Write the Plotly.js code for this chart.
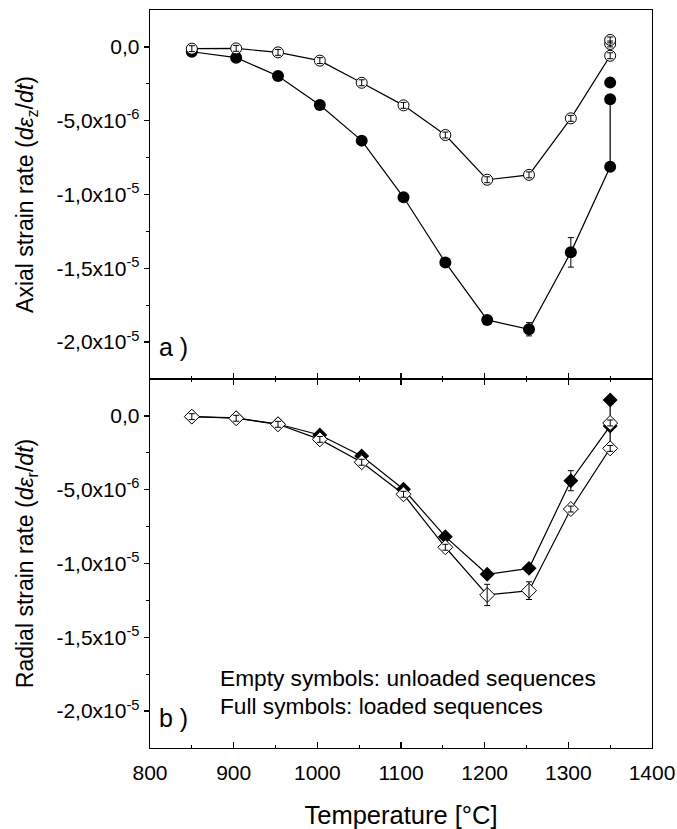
<!DOCTYPE html>
<html>
<head>
<meta charset="utf-8">
<script src="https://cdn.plot.ly/plotly-3.0.1.min.js"></script>
<style>html,body{margin:0;padding:0;background:#fff;}#chart{width:677px;height:829px;}</style>
</head>
<body>
<div id="chart"></div>
<script>
// ---- Data (strain rates in units of 1e-6 per s) ----
const axialUnloadedT = [850, 903, 953, 1003, 1053, 1103, 1153, 1203, 1253, 1303, 1350, 1350, 1350];
const axialUnloadedV = [-0.12, -0.10, -0.37, -0.93, -2.43, -3.96, -5.97, -9.00, -8.67, -4.84, -0.60, 0.20, 0.47];
const axialUnloadedE = [0.2, 0.2, 0.2, 0.2, 0.2, 0.2, 0.2, 0.2, 0.2, 0.2, 0.2, 0.2, 0.2];

const axialLoadedT = [850, 903, 953, 1003, 1053, 1103, 1153, 1203, 1253, 1303, 1350, 1350];
const axialLoadedV = [-0.33, -0.73, -1.97, -3.94, -6.35, -10.19, -14.60, -18.50, -19.13, -13.92, -8.12, -3.55];
const axialLoadedE = [0, 0, 0, 0, 0, 0, 0, 0, 0.45, 1.0, 0, 0];
const axialLoadedExtraT = [1350];
const axialLoadedExtraV = [-2.42];

const radialUnloadedT = [850, 903, 953, 1003, 1053, 1103, 1153, 1203, 1253, 1303, 1350, 1350];
const radialUnloadedV = [-0.05, -0.16, -0.57, -1.59, -3.14, -5.31, -8.90, -12.13, -11.84, -6.31, -2.20, -0.48];
const radialUnloadedE = [0.2, 0.2, 0.2, 0.2, 0.2, 0.2, 0.2, 0.72, 0.6, 0.2, 0.2, 0.2];

const radialLoadedT = [850, 903, 953, 1003, 1053, 1103, 1153, 1203, 1253, 1303, 1350, 1350];
const radialLoadedV = [-0.05, -0.14, -0.55, -1.29, -2.72, -4.97, -8.18, -10.73, -10.33, -4.39, -0.68, 1.08];
const radialLoadedE = [0, 0, 0, 0, 0, 0, 0, 0, 0, 0.68, 0, 0];

const yTickVals = [0, -5e-6, -1e-5, -1.5e-5, -2e-5];
const yTickText = ['0,0', '-5,0x10<sup>-6</sup>', '-1,0x10<sup>-5</sup>', '-1,5x10<sup>-5</sup>', '-2,0x10<sup>-5</sup>'];
const yMinorVals = [-2.5e-6, -7.5e-6, -1.25e-5, -1.75e-5];

const sc = v => v.map(d => d * 1e-6);

const FONT = 'Liberation Sans, Arial, sans-serif';
const lineStyle = {color: '#000', width: 1.2};

function errs(arr) {
  return {type: 'data', array: sc(arr), visible: true, color: '#000', thickness: 1, width: 3};
}

const traces = [
  {x: axialLoadedT, y: sc(axialLoadedV), xaxis: 'x2', yaxis: 'y2', mode: 'lines+markers',
   line: lineStyle, marker: {symbol: 'circle', size: 12, color: '#000'},
   error_y: errs(axialLoadedE)},
  {x: axialLoadedExtraT, y: sc(axialLoadedExtraV), xaxis: 'x2', yaxis: 'y2', mode: 'markers',
   marker: {symbol: 'circle', size: 12, color: '#000'}},
  {x: axialUnloadedT, y: sc(axialUnloadedV), xaxis: 'x2', yaxis: 'y2', mode: 'lines+markers',
   line: lineStyle, marker: {symbol: 'circle', size: 11, color: '#fff', line: {color: '#000', width: 1}}},
  {x: axialUnloadedT, y: sc(axialUnloadedV), xaxis: 'x2', yaxis: 'y2', mode: 'markers',
   marker: {size: 1, opacity: 0}, error_y: errs(axialUnloadedE)},
  {x: radialLoadedT, y: sc(radialLoadedV), xaxis: 'x', yaxis: 'y', mode: 'lines+markers',
   line: lineStyle, marker: {symbol: 'diamond', size: 11.5, color: '#000'},
   error_y: errs(radialLoadedE)},
  {x: radialUnloadedT, y: sc(radialUnloadedV), xaxis: 'x', yaxis: 'y', mode: 'lines+markers',
   line: lineStyle, marker: {symbol: 'diamond', size: 11.5, color: '#fff', line: {color: '#000', width: 1}}},
  {x: radialUnloadedT, y: sc(radialUnloadedV), xaxis: 'x', yaxis: 'y', mode: 'markers',
   marker: {size: 1, opacity: 0}, error_y: errs(radialUnloadedE)}
];

const axLine = {showline: true, linecolor: '#000', linewidth: 1.3, showgrid: false, zeroline: false};

const layout = {
  width: 677, height: 829,
  margin: {l: 150, r: 25, t: 10, b: 81},
  paper_bgcolor: '#fff', plot_bgcolor: '#fff',
  font: {family: FONT, color: '#000', size: 21},
  showlegend: false,
  xaxis: Object.assign({}, axLine, {
    domain: [0, 1], anchor: 'y', range: [800, 1400], tick0: 800, dtick: 100,
    ticks: 'inside', ticklen: 6, tickwidth: 1.3, tickcolor: '#000', mirror: 'ticks',
    minor: {ticks: 'inside', ticklen: 3, tickwidth: 1.2, dtick: 50, tick0: 800, tickcolor: '#000'},
    tickfont: {size: 21, family: FONT}, ticklabelstandoff: 5,
    title: {text: 'Temperature [°C]', font: {size: 25.5, family: FONT}, standoff: 24}
  }),
  xaxis2: Object.assign({}, axLine, {
    domain: [0, 1], anchor: 'y2', matches: 'x', range: [800, 1400], tick0: 800, dtick: 100,
    ticks: 'inside', ticklen: 6, tickwidth: 1.3, tickcolor: '#000', mirror: true,
    minor: {ticks: 'inside', ticklen: 3, tickwidth: 1.2, dtick: 50, tick0: 800, tickcolor: '#000'},
    showticklabels: false
  }),
  yaxis: Object.assign({}, axLine, {
    domain: [0, 0.5], anchor: 'x', range: [-2.25e-5, 2.5e-6],
    tickmode: 'array', tickvals: yTickVals, ticktext: yTickText,
    ticks: 'outside', ticklen: 5, tickwidth: 1.3, tickcolor: '#000', mirror: true,
    minor: {ticks: 'outside', ticklen: 3, tickwidth: 1.2, tickmode: 'array', tickvals: yMinorVals, tickcolor: '#000'},
    tickfont: {size: 21, family: FONT},
    title: {text: 'Radial strain rate (<i>dε</i><sub>r</sub>/<i>dt</i>)', font: {size: 23, family: FONT}, standoff: 16}
  }),
  yaxis2: Object.assign({}, axLine, {
    domain: [0.5, 1], anchor: 'x2', range: [-2.25e-5, 2.5e-6],
    tickmode: 'array', tickvals: yTickVals, ticktext: yTickText,
    ticks: 'outside', ticklen: 5, tickwidth: 1.3, tickcolor: '#000', mirror: true,
    minor: {ticks: 'outside', ticklen: 3, tickwidth: 1.2, tickmode: 'array', tickvals: yMinorVals, tickcolor: '#000'},
    tickfont: {size: 21, family: FONT},
    title: {text: 'Axial strain rate (<i>dε</i><sub>z</sub>/<i>dt</i>)', font: {size: 23, family: FONT}, standoff: 16}
  }),
  annotations: [
    {text: 'a )', xref: 'paper', yref: 'paper', x: 0.013, y: 0.5434, xanchor: 'left', yanchor: 'middle',
     showarrow: false, font: {size: 25, family: FONT}},
    {text: 'b )', xref: 'paper', yref: 'paper', x: 0.013, y: 0.0407, xanchor: 'left', yanchor: 'middle',
     showarrow: false, font: {size: 25, family: FONT}},
    {text: 'Empty symbols: unloaded sequences', xref: 'paper', yref: 'paper', x: 0.136, y: 0.0949,
     xanchor: 'left', yanchor: 'middle', showarrow: false, font: {size: 22.7, family: FONT}},
    {text: 'Full symbols: loaded sequences', xref: 'paper', yref: 'paper', x: 0.136, y: 0.0569,
     xanchor: 'left', yanchor: 'middle', showarrow: false, font: {size: 22.7, family: FONT}}
  ]
};

Plotly.newPlot('chart', traces, layout, {displayModeBar: false, staticPlot: true});
</script>
</body>
</html>
